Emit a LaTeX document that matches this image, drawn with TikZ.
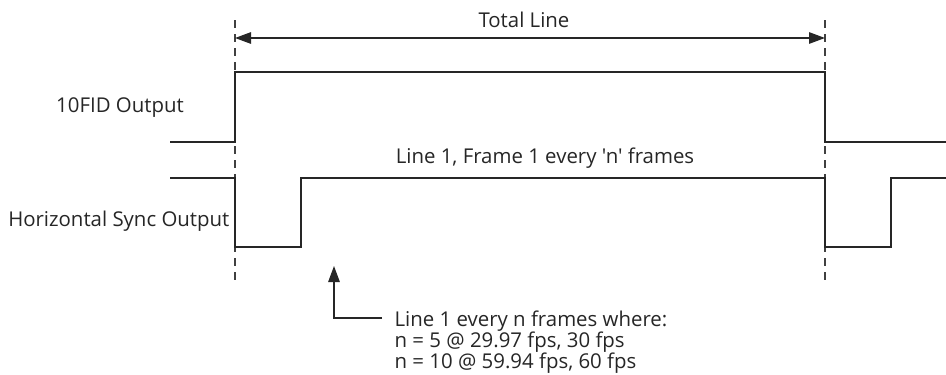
\documentclass[tikz,border=0pt]{standalone}
\usepackage{fontspec}
\setmainfont{Open Sans}[Ligatures=TeXOff]
\usetikzlibrary{arrows.meta,calc}
\begin{document}
\begin{tikzpicture}[x=1pt,y=-1pt,
  sig/.style={line width=1.3pt,color=black!85},
  guide/.style={line width=1.1pt,color=black!75,dash pattern=on 8pt off 6pt},
  lbl/.style={font=\fontsize{20.4}{21}\selectfont,color=black!85,inner sep=0pt},
  tip/.style={-{Triangle[length=16pt,width=11.5pt]}},
  both/.style={{Triangle[length=16pt,width=11.5pt]}-{Triangle[length=16pt,width=11.5pt]}},
  line width=1.3pt]
\useasboundingbox (0,0) rectangle (946,375);
% guide coordinates
\coordinate (gLtop) at (235,20);
\coordinate (gLbot) at (235,282);
\coordinate (gRtop) at (825,20);
\coordinate (gRbot) at (825,282);
\draw[guide] (gLtop) -- (gLbot);
\draw[guide] (gRtop) -- (gRbot);
% total line
\coordinate (tlL) at (235,38);
\coordinate (tlR) at (825,38);
\draw[sig,both] (tlL) -- (tlR);
\node[lbl,anchor=base] (total) at (524,27) {Total Line};
% 10FID
\coordinate (f0) at (170,142);
\coordinate (f1) at (235,142);
\coordinate (f2) at (235,72);
\coordinate (f3) at (825,72);
\coordinate (f4) at (825,142);
\coordinate (f5) at (946,142);
\draw[sig] (f0) -- (f1) -- (f2) -- (f3) -- (f4) -- (f5);
\node[lbl,anchor=base] (fid) at (120,112) {10FID Output};
% HSync
\coordinate (h0) at (170,178);
\coordinate (h1) at (235,178);
\coordinate (h2) at (235,247);
\coordinate (h3) at (301,247);
\coordinate (h4) at (301,178);
\coordinate (h5) at (825,178);
\coordinate (h6) at (825,247);
\coordinate (h7) at (891,247);
\coordinate (h8) at (891,178);
\coordinate (h9) at (946,178);
\draw[sig] (h0) -- (h1) -- (h2) -- (h3) -- (h4) -- (h5) -- (h6) -- (h7) -- (h8) -- (h9);
\node[lbl,anchor=base east] (hs) at (230,226) {Horizontal Sync Output};
\node[lbl,anchor=base] (l1f1) at (545,163) {Line 1, Frame 1 every 'n' frames};
% note
\node[lbl,anchor=base west,align=left] (note) at (394,368)
  {Line 1 every n frames where:\\n = 5 @ 29.97 fps, 30 fps\\n = 10 @ 59.94 fps, 60 fps};
\coordinate (atip) at (334,266);
\coordinate (acorner) at (334,318);
\coordinate (astart) at (382,318);
\draw[sig,tip] (astart) -- (acorner) -- (atip);
\end{tikzpicture}
\end{document}
